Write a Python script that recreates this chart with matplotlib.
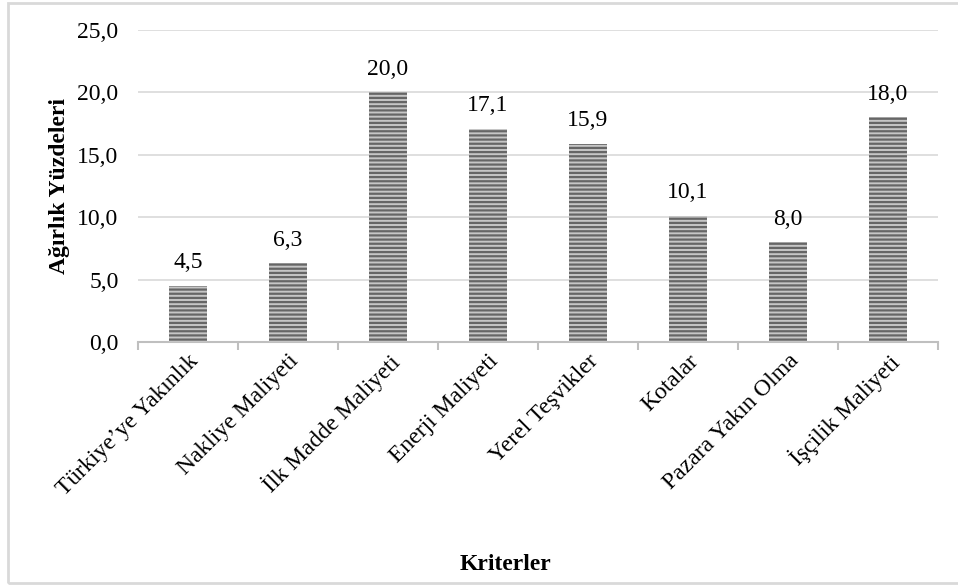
import matplotlib.pyplot as plt
from matplotlib.patches import Rectangle
from matplotlib.ticker import FuncFormatter, MultipleLocator

categories = ["Türkiye’ye Yakınlık", "Nakliye Maliyeti", "İlk Madde Maliyeti",
              "Enerji Maliyeti", "Yerel Teşvikler", "Kotalar",
              "Pazara Yakın Olma", "İşçilik Maliyeti"]
weights = [4.5, 6.3, 20.0, 17.1, 15.9, 10.1, 8.0, 18.0]

plt.rcParams['font.family'] = ['Liberation Serif', 'DejaVu Serif']
plt.rcParams['hatch.linewidth'] = 1.6

FS = 17
W, H = 958, 585
fig = plt.figure(figsize=(W / 100, H / 100), dpi=100)
ax = fig.add_axes([138 / W, 1 - 342 / H, 800 / W, 312 / H])

x = range(len(categories))
bars = ax.bar(x, weights, width=0.38, color='#c6c6c6', edgecolor='#666666',
              linewidth=0, hatch='----', zorder=3)

for b, v in zip(bars, weights):
    ax.text(b.get_x() + b.get_width() / 2, v + 1.0, f"{v:.1f}".replace('.', ','),
            ha='center', va='bottom', fontsize=FS)

ax.set_xlim(-0.5, len(categories) - 0.5)
ax.set_ylim(0, 25)
ax.yaxis.set_major_locator(MultipleLocator(5))
ax.yaxis.set_major_formatter(FuncFormatter(lambda v, p: f"{v:.1f}".replace('.', ',')))
ax.grid(axis='y', color='#d9d9d9', linewidth=1.2, zorder=0)

for s in ['top', 'right', 'left']:
    ax.spines[s].set_visible(False)
ax.spines['bottom'].set_color('#bfbfbf')
ax.spines['bottom'].set_linewidth(1.5)

ax.tick_params(axis='y', length=0, labelsize=FS, pad=14)
ax.set_xticks([i - 0.5 for i in range(len(categories) + 1)], minor=False)
ax.set_xticklabels([])
ax.tick_params(axis='x', which='major', length=6, width=1.5, color='#bfbfbf')
ax.set_xticks(list(x), minor=True)
ax.set_xticklabels(categories, minor=True, rotation=45, ha='right',
                   rotation_mode='anchor', fontsize=FS)
ax.tick_params(axis='x', which='minor', length=0, pad=6)

ax.set_ylabel('Ağırlık Yüzdeleri', fontsize=FS, fontweight='bold')
ax.yaxis.set_label_coords(-0.085, 0.5)
fig.text(505 / W, 1 - 565 / H, 'Kriterler', ha='center', va='center',
         fontsize=FS, fontweight='bold')

fig.patches.append(Rectangle((8 / W, 2 / H), 1.0, 1 - 5 / H, transform=fig.transFigure,
                             fill=False, edgecolor='#d9d9d9', linewidth=2))

fig.savefig('out.png', dpi=100, facecolor='white')
